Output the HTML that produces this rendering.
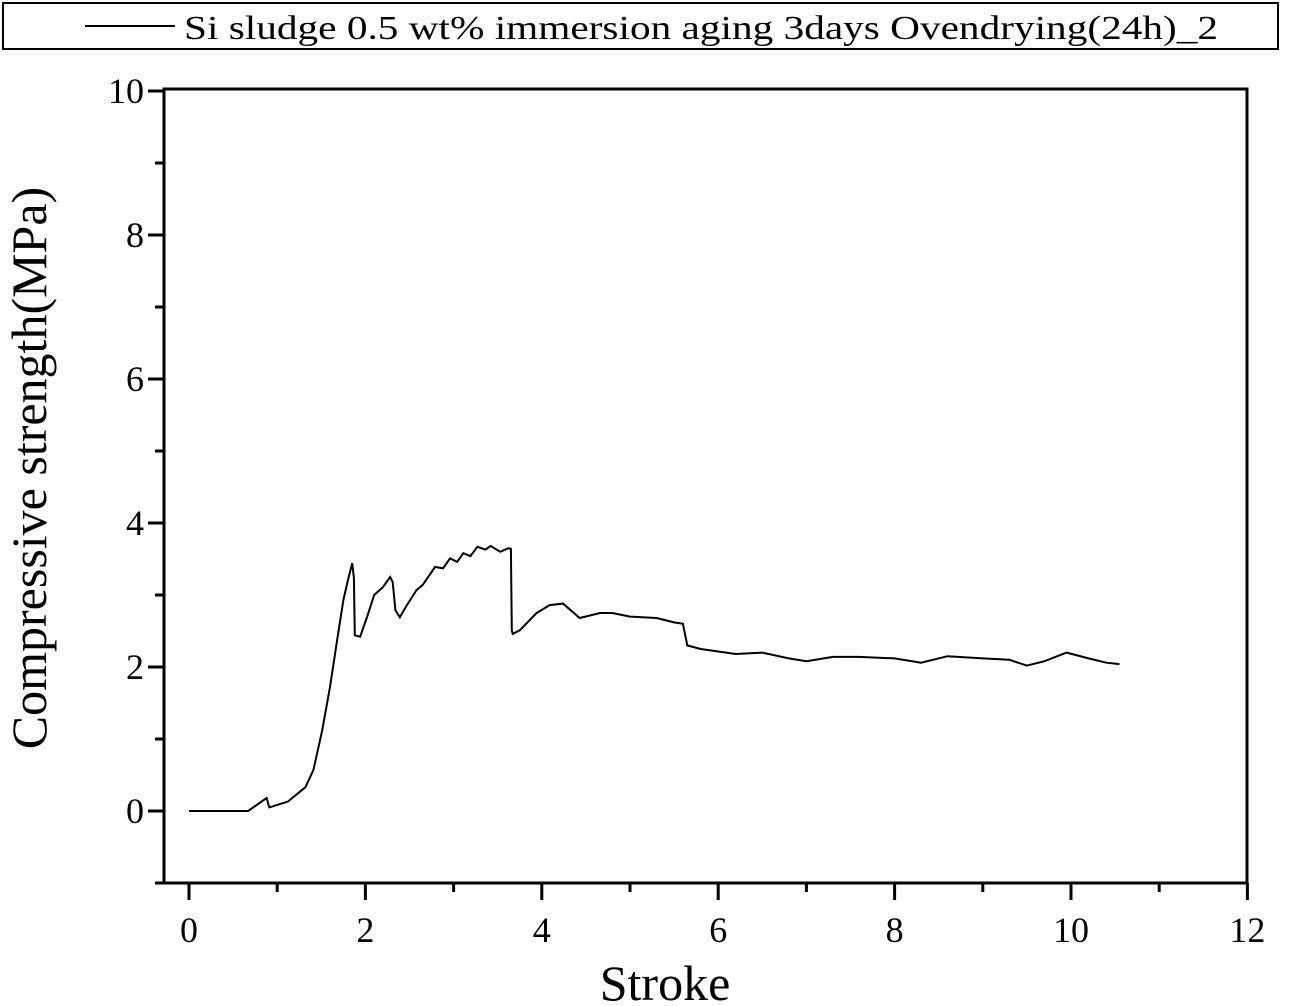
<!DOCTYPE html>
<html><head><meta charset="utf-8"><style>
html,body{margin:0;padding:0;background:#fff;}
svg{display:block;font-family:"Liberation Serif",serif;}
</style></head><body>
<svg id="chart" width="1291" height="1006">
<rect x="3" y="3" width="1275" height="46" fill="#fff" stroke="#000" stroke-width="2"/>
<line x1="85" y1="26" x2="175" y2="26" stroke="#000" stroke-width="2"/>
<text x="184" y="39" font-size="34" textLength="1034" lengthAdjust="spacingAndGlyphs">Si sludge 0.5 wt% immersion aging 3days Ovendrying(24h)_2</text>
<rect x="164" y="89" width="1083" height="794" fill="none" stroke="#000" stroke-width="3"/>
<g id="ticks"></g>
<path id="series" fill="none" stroke="#000" stroke-width="2"/>
<text x="665" y="1000" font-size="50" text-anchor="middle">Stroke</text>
<text transform="translate(46,468) rotate(-90)" font-size="50" text-anchor="middle">Compressive strength(MPa)</text>
</svg>
<script>
const xTicks=[0,2,4,6,8,10,12];
const yTicks=[0,2,4,6,8,10];
const xs=[0,0.67,0.88,0.91,1.12,1.32,1.41,1.51,1.60,1.68,1.75,1.80,1.85,1.87,1.88,1.94,2.02,2.10,2.20,2.28,2.31,2.34,2.39,2.47,2.58,2.65,2.79,2.88,2.96,3.04,3.11,3.19,3.27,3.36,3.42,3.53,3.62,3.65,3.66,3.67,3.75,3.94,4.09,4.24,4.43,4.66,4.8,5.0,5.3,5.5,5.6,5.65,5.8,6.2,6.5,6.8,7.0,7.3,7.6,8.0,8.3,8.6,9.0,9.3,9.5,9.7,9.95,10.2,10.4,10.55];
const ys=[0,0,0.18,0.05,0.13,0.33,0.57,1.12,1.73,2.38,2.93,3.2,3.44,3.24,2.44,2.42,2.7,3.0,3.11,3.25,3.18,2.79,2.69,2.86,3.07,3.14,3.39,3.37,3.51,3.46,3.58,3.54,3.67,3.63,3.68,3.6,3.65,3.64,2.51,2.46,2.51,2.75,2.86,2.88,2.68,2.75,2.75,2.7,2.68,2.62,2.6,2.3,2.25,2.18,2.2,2.12,2.08,2.14,2.14,2.12,2.06,2.15,2.12,2.1,2.02,2.08,2.2,2.12,2.06,2.04];
const X=v=>189+v*88.2, Y=v=>811-v*72;
const NS="http://www.w3.org/2000/svg";
const g=document.getElementById('ticks');
function ln(x1,y1,x2,y2,name){const l=document.createElementNS(NS,'line');l.setAttribute('x1',x1);l.setAttribute('y1',y1);l.setAttribute('x2',x2);l.setAttribute('y2',y2);l.setAttribute('stroke','#000');l.setAttribute('stroke-width','3');


g.appendChild(l);}
function tx(x,y,s,anchor,name){const t=document.createElementNS(NS,'text');t.setAttribute('x',x);t.setAttribute('y',y);t.setAttribute('font-size','36');t.setAttribute('text-anchor',anchor);t.textContent=s;


g.appendChild(t);}
xTicks.forEach((v,i)=>{ln(X(v),883,X(v),900,'x-tick');tx(X(v),942,String(v),'middle','x-tick-label');
 if(i<xTicks.length-1){const m=(v+xTicks[i+1])/2;ln(X(m),883,X(m),892,'x-minor-tick');}});
yTicks.forEach((v,i)=>{ln(164,Y(v),148,Y(v),'y-tick');tx(144,Y(v)+12,String(v),'end','y-tick-label');
 const m=v-1;ln(164,Y(m),155,Y(m),'y-minor-tick');});
let d='';xs.forEach((x,i)=>{d+=(i?'L':'M')+X(x).toFixed(1)+' '+Y(ys[i]).toFixed(1)+' ';});
document.getElementById('series').setAttribute('d',d);
</script>
</body></html>
